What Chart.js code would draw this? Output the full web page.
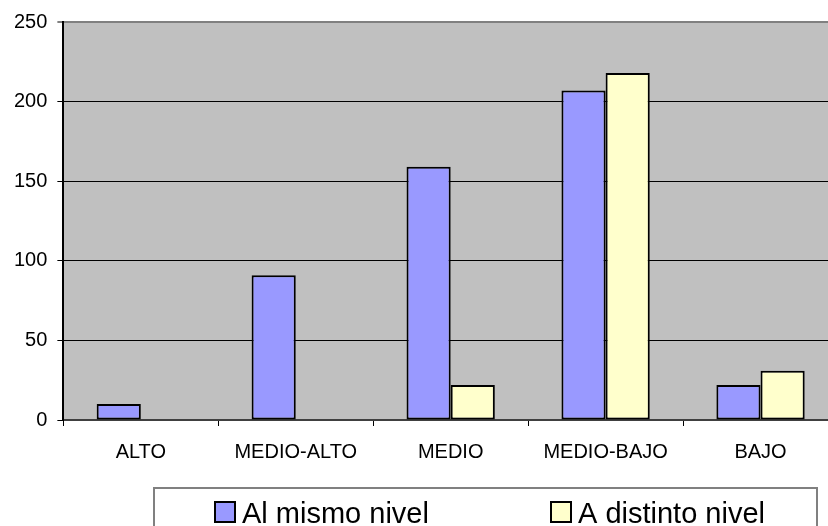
<!DOCTYPE html>
<html>
<head>
<meta charset="utf-8">
<script src="https://cdn.jsdelivr.net/npm/chart.js@4/dist/chart.umd.min.js"></script>
<style>
  html, body { margin:0; padding:0; background:#fff; overflow:hidden; }
  #wrap { width:840px; height:526px; position:relative; }
</style>
</head>
<body>
<div id="wrap"><canvas id="chart"></canvas></div>
<script>
// datos del grafico
const categorias = ['ALTO', 'MEDIO-ALTO', 'MEDIO', 'MEDIO-BAJO', 'BAJO'];
const mismoNivel = [10, 91, 159, 207, 22];
const distintoNivel = [0, 0, 22, 218, 31];
const nombresSeries = ['Al mismo nivel', 'A distinto nivel'];
const ejeY = { min: 0, max: 250, step: 50 };

const FONT = '"Liberation Sans", Arial, sans-serif';

// fondo gris del area de trazado
const plotBg = {
  id: 'plotBg',
  beforeDraw(chart) {
    const a = chart.chartArea, ctx = chart.ctx;
    ctx.save();
    ctx.fillStyle = '#c0c0c0';
    ctx.fillRect(a.left, a.top, a.right - a.left, a.bottom - a.top);
    ctx.restore();
  }
};

// leyenda con marco, como la de Excel
const boxLegend = {
  id: 'boxLegend',
  afterDraw(chart, args, opts) {
    const ctx = chart.ctx;
    ctx.save();
    ctx.strokeStyle = '#808080';
    ctx.lineWidth = 2;
    ctx.strokeRect(opts.left, opts.top, opts.width, opts.height);
    ctx.font = opts.fontSize + 'px ' + FONT;
    ctx.textBaseline = 'alphabetic';
    chart.data.datasets.forEach((ds, i) => {
      const x = opts.itemX[i];
      ctx.fillStyle = ds.backgroundColor;
      ctx.fillRect(x, opts.boxTop, opts.box, opts.box);
      ctx.strokeStyle = '#000';
      ctx.lineWidth = 2;
      ctx.strokeRect(x, opts.boxTop, opts.box, opts.box);
      ctx.fillStyle = '#000';
      ctx.fillText(ds.label, x + opts.box + 7, opts.baseline);
    });
    ctx.restore();
  }
};

new Chart(document.getElementById('chart'), {
  type: 'bar',
  data: {
    labels: categorias,
    datasets: [
      { label: nombresSeries[0], data: mismoNivel, backgroundColor: '#9999ff' },
      { label: nombresSeries[1], data: distintoNivel, backgroundColor: '#ffffcc' }
    ]
  },
  options: {
    responsive: true,
    maintainAspectRatio: false,
    animation: false,
    devicePixelRatio: 1,
    layout: { padding: { left: 4, top: 21, right: 2, bottom: 48 } },
    datasets: {
      bar: {
        borderColor: '#000',
        borderWidth: 2,
        borderSkipped: false,
        barPercentage: 1,
        categoryPercentage: 0.57
      }
    },
    plugins: {
      legend: { display: false },
      tooltip: { enabled: false },
      boxLegend: {
        left: 154, top: 488, width: 663, height: 60,
        itemX: [215, 551], boxTop: 502, box: 20, baseline: 523, fontSize: 29
      }
    },
    scales: {
      x: {
        grid: { drawOnChartArea: false, tickLength: 6, color: '#000', offset: true },
        border: { color: '#404040', width: 2 },
        ticks: { color: '#000', padding: 14, font: { family: FONT, size: 20 }, maxRotation: 0 }
      },
      y: {
        min: ejeY.min, max: ejeY.max,
        grid: {
          tickLength: 6,
          color: c => c.tick && c.tick.value === ejeY.max ? '#808080' : '#000',
          lineWidth: c => c.tick && c.tick.value === ejeY.max ? 2 : 1
        },
        border: { color: '#000', width: 2 },
        ticks: { stepSize: ejeY.step, color: '#000', padding: 10, font: { family: FONT, size: 20 } }
      }
    }
  },
  plugins: [plotBg, boxLegend]
});
</script>
</body>
</html>
